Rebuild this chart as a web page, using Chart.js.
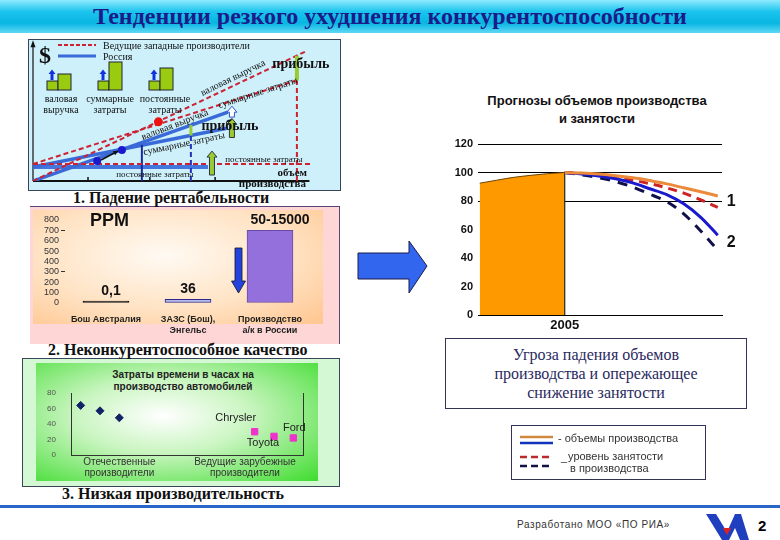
<!DOCTYPE html>
<html>
<head>
<meta charset="utf-8">
<script src="https://cdn.jsdelivr.net/npm/chart.js@4.4.1/dist/chart.umd.min.js"></script>
<style>
body{margin:0;width:780px;height:540px;position:relative;overflow:hidden;background:#fff;font-family:"Liberation Sans",Arial,sans-serif}
.abs{position:absolute}
#titlebar{left:0;top:0;width:780px;height:33px;background:linear-gradient(#8feaff,#1cc4ee 35%,#08b6e2 70%,#5fd8f4)}
#title{left:0;top:3px;width:780px;text-align:center;font:bold 24px "Liberation Serif",serif;color:#1b1b8a}
#p1{left:28px;top:39px;width:311px;height:150px;background:#cdf0fb;border:1px solid #3a4458}
#p2{left:30px;top:206px;width:309px;height:137px;background:#ffd6d6;border-top:1px solid #554477;border-right:1px solid #554477}
#p2in{left:33px;top:210px;width:290px;height:114px;background:radial-gradient(ellipse at 45% 40%,#fffaf3 0%,#ffe3c4 55%,#ffc58f 100%)}
#p3{left:22px;top:358px;width:316px;height:127px;background:#d4f7d4;border:1px solid #3a4458}
#p3in{left:36px;top:363px;width:282px;height:118px;background:radial-gradient(ellipse at 45% 45%,#ffffff 0%,#c9f5c0 40%,#3edc2e 100%)}
.cap{font:bold 16px "Liberation Serif",serif;color:#111;white-space:nowrap}
.ctitle{text-align:center;font-weight:bold;color:#111;white-space:nowrap}
#t3{left:83px;top:369px;width:200px;font-size:10px;line-height:12px;color:#222}
#t4{left:447px;top:92px;width:300px;font-size:13px;line-height:18px}
#box{left:445px;top:338px;width:302px;height:71px;border:1px solid #333355;background:#fff;text-align:center;font:16px/19px "Liberation Serif",serif;color:#2a2a60;padding-top:6px;box-sizing:border-box}
#legbox{left:511px;top:425px;width:193px;height:53px;border:1px solid #333355;background:#fff}
#rule{left:0;top:505px;width:780px;height:3px;background:#2a66c8}
#foot{left:517px;top:519px;font-size:10px;letter-spacing:0.6px;color:#333}
#pg{left:758px;top:517px;font:bold 15px "Liberation Sans",Arial,sans-serif;color:#000}
canvas{position:absolute}
svg{position:absolute;left:0;top:0}
</style>
</head>
<body>
<div id="titlebar" class="abs"></div>
<div id="title" class="abs">Тенденции резкого ухудшения конкурентоспособности</div>

<div id="p1" class="abs"></div>
<div id="p2" class="abs"></div>
<div id="p2in" class="abs"></div>
<div id="p3" class="abs"></div>
<div id="p3in" class="abs"></div>

<div class="abs cap" style="left:73px;top:189px">1. Падение рентабельности</div>
<div class="abs cap" style="left:48px;top:341px">2. Неконкурентоспособное качество</div>
<div class="abs cap" style="left:62px;top:485px">3. Низкая производительность</div>

<div id="t3" class="abs ctitle">Затраты времени в часах на<br>производство автомобилей</div>
<div id="t4" class="abs ctitle">Прогнозы объемов производства<br>и занятости</div>

<canvas id="c1" width="312" height="150" style="left:28px;top:39px"></canvas>
<canvas id="c2" width="292" height="130" style="left:33px;top:210px"></canvas>
<canvas id="c3" width="282" height="118" style="left:36px;top:363px"></canvas>
<canvas id="c4" width="315" height="250" style="left:440px;top:85px"></canvas>

<div id="box" class="abs">Угроза падения объемов<br>производства и опережающее<br>снижение занятости</div>
<div id="legbox" class="abs"></div>
<div id="rule" class="abs"></div>
<div id="foot" class="abs">Разработано МОО «ПО РИА»</div>
<div id="pg" class="abs">2</div>

<svg width="780" height="540" style="pointer-events:none">
  <!-- legend of panel 1 -->
  <line x1="58" y1="45" x2="96" y2="45" stroke="#cc2233" stroke-width="2" stroke-dasharray="4 2"/>
  <line x1="58" y1="56" x2="96" y2="56" stroke="#3a6ad8" stroke-width="3"/>
  <g font-family="Liberation Serif,serif" font-size="10" fill="#111">
    <text x="103" y="48.5">Ведущие западные производители</text>
    <text x="103" y="59.5">Россия</text>
  </g>
  <text x="39" y="63" font-family="Liberation Serif,serif" font-size="24" font-weight="bold" fill="#111">$</text>
  <g fill="#99cc11" stroke="#223" stroke-width="1">
    <rect x="47" y="81" width="11" height="9"/><rect x="58" y="74" width="13" height="16"/>
    <rect x="98" y="81" width="11" height="9"/><rect x="109" y="62" width="13" height="28"/>
    <rect x="149" y="81" width="11" height="9"/><rect x="160" y="68" width="13" height="22"/>
  </g>
  <g fill="#1133dd">
    <polygon points="50.5,80 50.5,74 48.5,74 52,69.5 55.5,74 53.5,74 53.5,80"/>
    <polygon points="101.5,80 101.5,74 99.5,74 103,69.5 106.5,74 104.5,74 104.5,80"/>
    <polygon points="152.5,80 152.5,74 150.5,74 154,69.5 157.5,74 155.5,74 155.5,80"/>
  </g>
  <g font-family="Liberation Serif,serif" font-size="10" fill="#111" text-anchor="middle">
    <text x="61" y="101.5">валовая</text><text x="61" y="112.5">выручка</text>
    <text x="110" y="101.5">суммарные</text><text x="110" y="112.5">затраты</text>
    <text x="165" y="101.5">постоянные</text><text x="165" y="112.5">затраты</text>
  </g>
  <!-- PPM panel -->
  <text x="90" y="226" font-family="Liberation Sans,Arial,sans-serif" font-size="18" font-weight="bold" fill="#111">PPM</text>
  <polygon points="235,248 242,248 242,281 245.5,281 238.5,293 231.5,281 235,281" fill="#2244dd" stroke="#112" stroke-width="0.8"/>
  <!-- big arrow -->
  <polygon points="358,253 409,253 409,241 427,266 409,293 409,279 358,279" fill="#3366ee" stroke="#1a1a4a" stroke-width="1"/>
  <!-- right legend -->
  <line x1="520" y1="437" x2="553" y2="437" stroke="#d08a40" stroke-width="2.5"/>
  <line x1="520" y1="443" x2="553" y2="443" stroke="#1133bb" stroke-width="2.5"/>
  <line x1="520" y1="457" x2="553" y2="457" stroke="#bb2a2a" stroke-width="2.5" stroke-dasharray="7 4"/>
  <line x1="520" y1="466" x2="553" y2="466" stroke="#111144" stroke-width="2.5" stroke-dasharray="7 4"/>
  <g font-family="Liberation Sans,Arial,sans-serif" font-size="11" fill="#333">
    <text x="558" y="442">- объемы производства</text>
    <text x="561" y="461">_</text>
    <text x="568" y="460">уровень занятости</text>
    <text x="570" y="472">в производства</text>
  </g>
  <!-- logo -->
  <polygon points="706,514 716,514 727,532 735,514 741,514 749,540 740,540 735,528 729,540 722,540" fill="#1f3fbf"/>
  <polygon points="723,528 731,528 727,535" fill="#e02020"/>
</svg>

<script>
const SANS = '"Liberation Sans", Arial, sans-serif';
const SERIF = '"Liberation Serif", "Times New Roman", serif';

// ---- 1. break-even chart (volume, $ in % of axis) ----
const westRevenue   = [[0, 0], [96, 95.6]];
const westTotalCost = [[0, 12.5], [93, 74.3]];
const westFixedCost = [[0, 12.5], [97.5, 12.5]];
const rusRevenue    = [[0, 0], [68.4, 50.7]];
const rusTotalCost  = [[0, 10.3], [68.4, 39]];
const rusFixedCost  = [[0, 10.3], [61.4, 10.3]];
const westBreakEven = [[44, 43.5]];
const rusBreakEven  = [[22.5, 14.7], [31.2, 22.8]];
const westVolume    = [[92.6, 0], [92.6, 74]];
const westProfit    = [[92.6, 74], [92.6, 92.1]];
const rusVolumeNow  = [[38.2, 0], [38.2, 26.5]];
const rusVolume     = [[55.4, 0], [55.4, 33.5]];
const rusProfit     = [[55.4, 33.5], [55.4, 41.1]];
const volumeTicks   = [19.3, 41, 63.9];

// ---- 2. PPM ----
const ppmPlants = [['Бош Австралия'], ['ЗАЗС (Бош),', 'Энгельс'], ['Производство', 'а/к в России']];
const ppmValues = [0.1, 36, 700];
const ppmLabels = ['0,1', '36', '50-15000'];

// ---- 3. hours per car ----
const domesticPos   = [0.5, 1.5, 2.5];
const domesticHours = [64, 57, 48];
const foreignPos    = [9.5, 10.5, 11.5];
const foreignHours  = [30, 24, 22];
const foreignMakers = ['Chrysler', 'Toyota', 'Ford'];
const groupPos      = [2.5, 9];
const groupNames    = [['Отечественные', 'производители'], ['Ведущие зарубежные', 'производители']];

// ---- 4. forecast ----
const historyYears  = [2000, 2001, 2002, 2003, 2004, 2005];
const historyOutput = [92.5, 94.6, 96.6, 98, 99.2, 100];
const forecastYears = [2005, 2006, 2007, 2008, 2009, 2010, 2011, 2012, 2013, 2014];
const westOutput = [100, 99.6, 98.9, 97.8, 96.3, 94.4, 92.0, 89.3, 86.5, 83.5];
const westJobs   = [100, 99.3, 98.2, 96.6, 94.6, 92.2, 89.2, 85.5, 80.8, 75.5];
const rusOutput  = [100, 99.0, 97.6, 95.6, 92.7, 88.6, 84.5, 78.0, 68.5, 56.0];
const rusJobs    = [100, 98.4, 96.4, 93.6, 89.8, 84.8, 79.5, 71.0, 59.0, 45.5];

function seg(data, color, width, dash) {
  return {data: data, borderColor: color, borderWidth: width, borderDash: dash || [], pointRadius: 0, fill: false, tension: 0};
}
function dots(data, color, r) {
  return {data: data, showLine: false, pointRadius: r, pointBackgroundColor: color, pointBorderColor: color, pointBorderWidth: 0};
}
function pairs(xs, ys) {
  return xs.map((v, i) => [v, ys[i]]);
}

// ---------------- chart 1 ----------------
const notes1 = [
  {x: 70.2, y: 75.7, t: 'валовая выручка', rot: -26, f: '10px ' + SERIF},
  {x: 78.9, y: 64.7, t: 'суммарные затраты', rot: -18, f: '10px ' + SERIF},
  {x: 49.8, y: 41.2, t: 'валовая выручка', rot: -21, f: '10px ' + SERIF},
  {x: 53, y: 27.2, t: 'суммарные затраты', rot: -12, f: '10px ' + SERIF},
  {x: 94, y: 86, t: 'прибыль', f: 'bold 14px ' + SERIF},
  {x: 69.1, y: 40.4, t: 'прибыль', f: 'bold 14px ' + SERIF},
  {x: 81, y: 15.4, t: 'постоянные затраты', f: '9px ' + SERIF},
  {x: 42.8, y: 4.4, t: 'постоянные затраты', f: '9px ' + SERIF},
  {x: 91, y: 5.9, t: 'объем', f: 'bold 11px ' + SERIF},
  {x: 84, y: -2.2, t: 'производства', f: 'bold 11px ' + SERIF}
];
const upArrows1 = [
  {x: 69.8, y0: 32, y1: 46, fill: '#99cc33', stroke: '#334'},
  {x: 69.8, y0: 47, y1: 55, fill: '#ffffff', stroke: '#3355cc'},
  {x: 62.8, y0: 4.4, y1: 22, fill: '#99cc33', stroke: '#334'}
];

function upArrow(ctx, px, yb, yt, fill, stroke) {
  ctx.beginPath();
  ctx.moveTo(px - 2.5, yb); ctx.lineTo(px - 2.5, yt + 6); ctx.lineTo(px - 5, yt + 6);
  ctx.lineTo(px, yt); ctx.lineTo(px + 5, yt + 6); ctx.lineTo(px + 2.5, yt + 6); ctx.lineTo(px + 2.5, yb);
  ctx.closePath();
  ctx.fillStyle = fill; ctx.fill();
  ctx.strokeStyle = stroke; ctx.lineWidth = 1; ctx.stroke();
}

const breakEvenNotes = {
  id: 'breakEvenNotes',
  beforeDatasetsDraw(chart) {
    const {ctx, scales: {x, y}} = chart;
    const x0 = x.getPixelForValue(0), y0 = y.getPixelForValue(0);
    ctx.save();
    ctx.strokeStyle = '#111'; ctx.fillStyle = '#111';
    ctx.lineWidth = 2;
    ctx.beginPath(); ctx.moveTo(x0, y0); ctx.lineTo(x.getPixelForValue(97), y0); ctx.stroke();
    ctx.lineWidth = 1.2;
    ctx.beginPath(); ctx.moveTo(x0, y0); ctx.lineTo(x0, y.getPixelForValue(100)); ctx.stroke();
    const yt = y.getPixelForValue(102);
    ctx.beginPath(); ctx.moveTo(x0, yt - 2); ctx.lineTo(x0 - 2.5, yt + 5); ctx.lineTo(x0 + 2.5, yt + 5); ctx.closePath(); ctx.fill();
    ctx.lineWidth = 1.5;
    volumeTicks.forEach(v => {
      const px = x.getPixelForValue(v);
      ctx.beginPath(); ctx.moveTo(px, y0); ctx.lineTo(px, y0 - 4); ctx.stroke();
    });
    ctx.restore();
  },
  afterDatasetsDraw(chart) {
    const {ctx, scales: {x, y}} = chart;
    ctx.save();
    // pointer between the two Russian break-even points
    const ax = x.getPixelForValue(rusBreakEven[0][0]) + 4, ay = y.getPixelForValue(rusBreakEven[0][1]) - 1;
    const bx = x.getPixelForValue(rusBreakEven[1][0]) - 4, by = y.getPixelForValue(rusBreakEven[1][1]) + 1;
    ctx.strokeStyle = '#111'; ctx.fillStyle = '#111'; ctx.lineWidth = 1.5;
    ctx.beginPath(); ctx.moveTo(ax, ay); ctx.lineTo(bx, by); ctx.stroke();
    const ang = Math.atan2(by - ay, bx - ax);
    ctx.beginPath(); ctx.moveTo(bx, by);
    ctx.lineTo(bx - 5 * Math.cos(ang - 0.5), by - 5 * Math.sin(ang - 0.5));
    ctx.lineTo(bx - 5 * Math.cos(ang + 0.5), by - 5 * Math.sin(ang + 0.5));
    ctx.closePath(); ctx.fill();
    upArrows1.forEach(a => upArrow(ctx, x.getPixelForValue(a.x), y.getPixelForValue(a.y0), y.getPixelForValue(a.y1), a.fill, a.stroke));
    ctx.textAlign = 'center'; ctx.textBaseline = 'middle'; ctx.fillStyle = '#111';
    notes1.forEach(n => {
      ctx.save();
      ctx.translate(x.getPixelForValue(n.x), y.getPixelForValue(n.y));
      ctx.rotate((n.rot || 0) * Math.PI / 180);
      ctx.font = n.f;
      ctx.fillText(n.t, 0, 0);
      ctx.restore();
    });
    ctx.restore();
  }
};

new Chart(document.getElementById('c1'), {
  type: 'line',
  data: {
    datasets: [
      dots(westBreakEven, '#ee1111', 4.5),
      dots(rusBreakEven, '#1a1acc', 4),
      seg(westProfit, '#99cc33', 4),
      seg(rusProfit, '#99cc33', 3),
      seg(westRevenue, '#cc2233', 2, [5, 3]),
      seg(westTotalCost, '#cc2233', 2, [5, 3]),
      seg(westFixedCost, '#cc2233', 2, [5, 3]),
      seg(westVolume, '#cc2233', 2, [5, 3]),
      seg(rusVolumeNow, '#1a2a99', 2),
      seg(rusVolume, '#2233bb', 2, [5, 3]),
      seg(rusRevenue, '#3a6ad8', 3.5),
      seg(rusTotalCost, '#3a6ad8', 3.5),
      seg(rusFixedCost, '#4477dd', 4)
    ]
  },
  options: {
    responsive: false, animation: false,
    layout: {padding: {left: 5, right: 22, top: 6, bottom: 8}},
    scales: {
      x: {type: 'linear', min: 0, max: 100, display: false},
      y: {type: 'linear', min: 0, max: 100, display: false}
    },
    plugins: {legend: {display: false}, tooltip: {enabled: false}}
  },
  plugins: [breakEvenNotes]
});

// ---------------- chart 2 ----------------
const ppmValueLabels = {
  id: 'ppmValueLabels',
  afterDatasetsDraw(chart) {
    const {ctx} = chart;
    const meta = chart.getDatasetMeta(0);
    ctx.save();
    ctx.font = 'bold 14px ' + SANS; ctx.fillStyle = '#111'; ctx.textAlign = 'center'; ctx.textBaseline = 'bottom';
    meta.data.forEach((bar, i) => {
      const dx = i === 0 ? 5 : (i === 2 ? 10 : 0);
      ctx.fillText(ppmLabels[i], bar.x + dx, bar.y - 3);
    });
    ctx.restore();
  }
};

new Chart(document.getElementById('c2'), {
  type: 'bar',
  data: {
    labels: ppmPlants,
    datasets: [{
      data: ppmValues,
      backgroundColor: ['#111111', '#b8b8f0', '#9370db'],
      borderColor: ['#111111', '#2a2a88', '#6a4aa8'],
      borderWidth: 1, borderSkipped: false,
      barThickness: 46, minBarLength: 2
    }]
  },
  options: {
    responsive: false, animation: false,
    layout: {padding: {left: 0, right: 14, top: 10, bottom: 0}},
    scales: {
      x: {
        grid: {display: false, drawTicks: false}, border: {display: false},
        ticks: {font: {family: SANS, size: 9, weight: 'bold', lineHeight: 1.25}, color: '#222', padding: 11, maxRotation: 0, autoSkip: false},
        afterFit: s => { s.height = 37; }
      },
      y: {
        min: 0, max: 800,
        ticks: {stepSize: 100, autoSkip: false, font: {family: SANS, size: 9}, color: '#333', padding: 2},
        grid: {drawOnChartArea: false, drawTicks: true, tickLength: 4, color: c => (c.tick && (c.tick.value === 700 || c.tick.value === 300)) ? '#333' : 'rgba(0,0,0,0)'},
        border: {display: false},
        afterFit: s => { s.width = 32; }
      }
    },
    plugins: {legend: {display: false}, tooltip: {enabled: false}}
  },
  plugins: [ppmValueLabels]
});

// ---------------- chart 3 ----------------
const makerOffsets = [[-19, -14], [-11, 7], [1, -10]];
const makerLabels = {
  id: 'makerLabels',
  afterDatasetsDraw(chart) {
    const {ctx} = chart;
    const meta = chart.getDatasetMeta(1);
    ctx.save();
    ctx.font = '11px ' + SANS; ctx.fillStyle = '#222'; ctx.textAlign = 'center'; ctx.textBaseline = 'middle';
    meta.data.forEach((p, i) => ctx.fillText(foreignMakers[i], p.x + makerOffsets[i][0], p.y + makerOffsets[i][1]));
    ctx.restore();
  }
};

new Chart(document.getElementById('c3'), {
  type: 'scatter',
  data: {
    datasets: [
      {data: pairs(domesticPos, domesticHours), pointStyle: 'rectRot', pointRadius: 4, backgroundColor: '#112266', borderColor: '#112266'},
      {data: pairs(foreignPos, foreignHours), pointStyle: 'rect', pointRadius: 4.5, backgroundColor: '#ee33cc', borderColor: '#ee33cc'}
    ]
  },
  options: {
    responsive: false, animation: false,
    layout: {padding: {left: 0, right: 15, top: 30, bottom: 0}},
    scales: {
      x: {
        type: 'linear', min: 0, max: 12,
        afterBuildTicks: s => { s.ticks = groupPos.map(v => ({value: v})); },
        ticks: {callback: (v, i) => groupNames[i], font: {family: SANS, size: 10, lineHeight: 1.1}, color: '#333', padding: 2, maxRotation: 0},
        grid: {display: false, drawTicks: false},
        border: {display: true, color: '#333', width: 1},
        afterFit: s => { s.height = 26; }
      },
      y: {
        min: 0, max: 80,
        ticks: {stepSize: 20, font: {family: SANS, size: 8}, color: '#555', padding: 15},
        grid: {display: false, drawTicks: false},
        border: {display: true, color: '#333', width: 1},
        afterFit: s => { s.width = 35; }
      },
      y2: {
        position: 'right', min: 0, max: 80,
        ticks: {display: false}, grid: {display: false, drawTicks: false},
        border: {display: true, color: '#333', width: 1},
        afterFit: s => { s.width = 0; }
      }
    },
    plugins: {legend: {display: false}, tooltip: {enabled: false}}
  },
  plugins: [makerLabels]
});

// ---------------- chart 4 ----------------
const groupMarks = {
  id: 'groupMarks',
  afterDatasetsDraw(chart) {
    const {ctx} = chart;
    const end = i => { const d = chart.getDatasetMeta(i).data; return d[d.length - 1]; };
    ctx.save();
    ctx.font = 'bold 16px ' + SANS; ctx.fillStyle = '#111'; ctx.textAlign = 'left'; ctx.textBaseline = 'middle';
    ctx.fillText('1', end(0).x + 9, (end(0).y + end(2).y) / 2);
    ctx.fillText('2', end(1).x + 9, (end(1).y + end(3).y) / 2);
    ctx.restore();
  }
};

new Chart(document.getElementById('c4'), {
  type: 'line',
  data: {
    datasets: [
      {data: pairs(forecastYears, westOutput), borderColor: '#ea8a3a', borderWidth: 3, pointRadius: 0, cubicInterpolationMode: 'monotone', fill: false},
      {data: pairs(forecastYears, rusOutput), borderColor: '#1a1acc', borderWidth: 3, pointRadius: 0, cubicInterpolationMode: 'monotone', fill: false},
      {data: pairs(forecastYears, westJobs), borderColor: '#cc2222', borderWidth: 3, borderDash: [9, 6], pointRadius: 0, cubicInterpolationMode: 'monotone', fill: false},
      {data: pairs(forecastYears, rusJobs), borderColor: '#10104a', borderWidth: 3, borderDash: [10, 8], pointRadius: 0, cubicInterpolationMode: 'monotone', fill: false},
      {data: [[2005, 0], [2005, 100]], borderColor: '#222', borderWidth: 1.2, pointRadius: 0, fill: false},
      {data: pairs(historyYears, historyOutput), borderColor: '#6a4200', borderWidth: 1, backgroundColor: '#ff9900', pointRadius: 0, cubicInterpolationMode: 'monotone', fill: 'origin'}
    ]
  },
  options: {
    responsive: false, animation: false,
    layout: {padding: {left: 0, right: 33, top: 59, bottom: 0}},
    scales: {
      x: {
        type: 'linear', min: 1999.9, max: 2014.25,
        afterBuildTicks: s => { s.ticks = [{value: 2005}]; },
        ticks: {callback: v => String(v), font: {family: SANS, size: 13, weight: 'bold'}, color: '#111', padding: 3, maxRotation: 0},
        grid: {display: false, drawTicks: false},
        border: {display: true, color: '#000', width: 1},
        afterFit: s => { s.height = 20; }
      },
      y: {
        min: 0, max: 120,
        ticks: {stepSize: 20, font: {family: SANS, size: 11, weight: 'bold'}, color: '#111', padding: 5},
        grid: {drawTicks: false, color: c => (c.tick && c.tick.value >= 80) ? '#000' : 'rgba(0,0,0,0)', lineWidth: 1},
        border: {display: false},
        afterFit: s => { s.width = 38; }
      }
    },
    plugins: {legend: {display: false}, tooltip: {enabled: false}}
  },
  plugins: [groupMarks]
});
</script>
</body>
</html>
